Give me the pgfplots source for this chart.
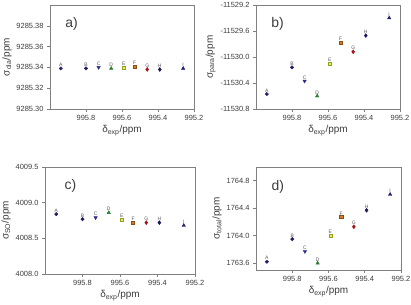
\documentclass[border=0pt]{standalone}
\usepackage{pgfplots}
\pgfplotsset{compat=1.18}
\usepackage{pgfplotstable}
\usepackage{fontspec}
\setmainfont{Liberation Sans}

\definecolor{axgray}{RGB}{128,128,128}
\definecolor{txtgray}{RGB}{60,60,60}
\definecolor{cA}{RGB}{38,30,105}
\definecolor{cB}{RGB}{30,28,95}
\definecolor{cC}{RGB}{45,45,140}
\definecolor{cD}{RGB}{40,125,50}
\definecolor{cE}{RGB}{150,160,20}
\definecolor{cEf}{RGB}{230,235,120}
\definecolor{cF}{RGB}{215,125,40}
\definecolor{cFd}{RGB}{140,75,20}
\definecolor{cG}{RGB}{165,20,25}
\definecolor{cH}{RGB}{25,25,90}
\definecolor{cI}{RGB}{30,30,110}

% downward-pointing filled triangle
\pgfdeclareplotmark{dtriangle*}{%
  \pgfpathmoveto{\pgfqpointpolar{-90}{\pgfplotmarksize}}%
  \pgfpathlineto{\pgfqpointpolar{30}{\pgfplotmarksize}}%
  \pgfpathlineto{\pgfqpointpolar{150}{\pgfplotmarksize}}%
  \pgfpathclose
  \pgfusepathqfillstroke}

% Large values with a small spread: split "int.frac" as text so that the
% integer offset is removed exactly before pgfmath sees the number.
\makeatletter
\def\shiftcoord#1#2{%
  \edef\shift@arg{#2}%
  \def\shift@off{#1}%
  \expandafter\shiftcoord@\shift@arg.0.\@nil}
\def\shiftcoord@#1.#2.#3\@nil{%
  \edef\shift@int{\the\numexpr#1-(\shift@off)\relax}%
  \ifnum\numexpr#1\relax<0
    \pgfmathparse{\shift@int-0.#20}%
  \else
    \pgfmathparse{\shift@int+0.#20}%
  \fi}
\makeatother

\pgfplotstableread{
x      y         lab
995.94 9285.339  A
995.80 9285.339  B
995.73 9285.340  C
995.66 9285.339  D
995.59 9285.340  E
995.53 9285.341  F
995.46 9285.338  G
995.39 9285.338  H
995.26 9285.339  I
}\dia

\pgfplotstableread{
x      y          lab
995.94 -11530.57  A
995.80 -11530.16  B
995.73 -11530.37  C
995.66 -11530.60  D
995.59 -11530.10  E
995.53 -11529.78  F
995.46 -11529.92  G
995.39 -11529.67  H
995.26 -11529.40  I
}\para

\pgfplotstableread{
x      y        lab
995.94 4008.84  A
995.80 4008.77  B
995.73 4008.79  C
995.66 4008.86  D
995.59 4008.76  E
995.53 4008.72  F
995.46 4008.72  G
995.39 4008.72  H
995.26 4008.68  I
}\so

\pgfplotstableread{
x      y        lab
995.94 1763.62  A
995.80 1763.95  B
995.73 1763.77  C
995.66 1763.60  D
995.59 1764.00  E
995.53 1764.27  F
995.46 1764.13  G
995.39 1764.37  H
995.26 1764.60  I
}\total

\tikzset{tag/.style={font=\fontsize{14}{14}\selectfont, text=txtgray}}

\pgfplotsset{
  panel/.style={
    scale only axis,
    anchor=north west,
    x dir=reverse,
    xmin=995.2, xmax=996.0,
    xtick={995.2,995.4,995.6,995.8},
    xtick pos=left, ytick pos=left,
    tick align=outside,
    major tick length=3bp,
    axis line style={axgray, line width=0.6pt},
    every tick/.style={axgray, line width=0.6pt},
    tick label style={font=\fontsize{7.5}{8}\selectfont, text=txtgray},
    label style={font=\fontsize{10}{11}\selectfont, text=txtgray},
    /pgf/number format/assume math mode=true,
    /pgf/number format/1000 sep={},
    x tick label style={/pgf/number format/.cd, fixed, fixed zerofill, precision=1},
    xlabel={δ\textsubscript{exp}/ppm},
    xlabel style={yshift=2bp},
    ylabel style={yshift=-2bp},
    clip=false,
  },
  pts/.style={
    only marks,
    scatter,
    point meta=explicit symbolic,
    scatter/classes={
      A={mark=*, mark size=1.7, draw=cA, fill=cA},
      B={mark=*, mark size=1.7, draw=cB, fill=cB},
      C={mark=dtriangle*, mark size=2.0, draw=cC, fill=cC},
      D={mark=triangle*, mark size=2.0, draw=cD, fill=cD},
      E={mark=square*, mark size=1.55, draw=cE, fill=cEf},
      F={mark=square*, mark size=1.55, draw=cFd, fill=cF},
      G={mark=diamond*, mark size=2.0, draw=cG, fill=cG},
      H={mark=diamond*, mark size=2.0, draw=cH, fill=cH},
      I={mark=triangle*, mark size=2.0, draw=cI, fill=cI}
    },
    nodes near coords*,
    every node near coord/.append style={
      font=\fontsize{5}{5}\selectfont, text=black!65,
      anchor=south, inner sep=0.8bp, yshift=0.8bp},
  },
}

\begin{document}
\begin{tikzpicture}
\useasboundingbox (0,0) rectangle (411bp,-305bp);

% a) diamagnetic term
\begin{axis}[panel, at={(50bp,-5bp)}, width=144bp, height=104bp,
  y coord trafo/.code={\shiftcoord{9285}{#1}},
  y coord inv trafo/.code={\pgfmathparse{#1+9285}},
  ymin=9285.30, ymax=9285.40,
  ytick={9285.30,9285.32,9285.34,9285.36,9285.38},
  y tick label style={/pgf/number format/.cd, fixed, fixed zerofill, precision=2},
  ylabel={σ\textsubscript{dia}/ppm}]
  \addplot[pts] table[x=x, y=y, meta=lab]{\dia};
  \node[tag] at (rel axis cs:0.15,0.82) {a)};
\end{axis}

% b) paramagnetic term
\begin{axis}[panel, at={(256bp,-5bp)}, width=144bp, height=104bp,
  y coord trafo/.code={\shiftcoord{-11530}{#1}},
  y coord inv trafo/.code={\pgfmathparse{#1-11530}},
  ymin=-11530.8, ymax=-11529.2,
  ytick={-11530.8,-11530.4,-11530.0,-11529.6,-11529.2},
  y tick label style={/pgf/number format/.cd, fixed, fixed zerofill, precision=1},
  ylabel={σ\textsubscript{para}/ppm}]
  \addplot[pts] table[x=x, y=y, meta=lab]{\para};
  \node[tag] at (rel axis cs:0.15,0.82) {b)};
\end{axis}

% c) spin-orbit term
\begin{axis}[panel, at={(45bp,-167bp)}, width=150bp, height=107bp,
  ymin=4008.0, ymax=4009.5,
  ytick={4008.0,4008.5,4009.0,4009.5},
  y tick label style={/pgf/number format/.cd, fixed, fixed zerofill, precision=1},
  ylabel={σ\textsubscript{SO}/ppm}]
  \addplot[pts] table[x=x, y=y, meta=lab]{\so};
  \node[tag] at (rel axis cs:0.17,0.82) {c)};
\end{axis}

% d) total shielding
\begin{axis}[panel, at={(256bp,-167bp)}, width=145bp, height=103bp,
  ymin=1763.5, ymax=1765.0,
  ytick={1763.6,1764.0,1764.4,1764.8},
  y tick label style={/pgf/number format/.cd, fixed, fixed zerofill, precision=1},
  ylabel={σ\textsubscript{total}/ppm}]
  \addplot[pts] table[x=x, y=y, meta=lab]{\total};
  \node[tag] at (rel axis cs:0.15,0.81) {d)};
\end{axis}
\end{tikzpicture}
\end{document}
